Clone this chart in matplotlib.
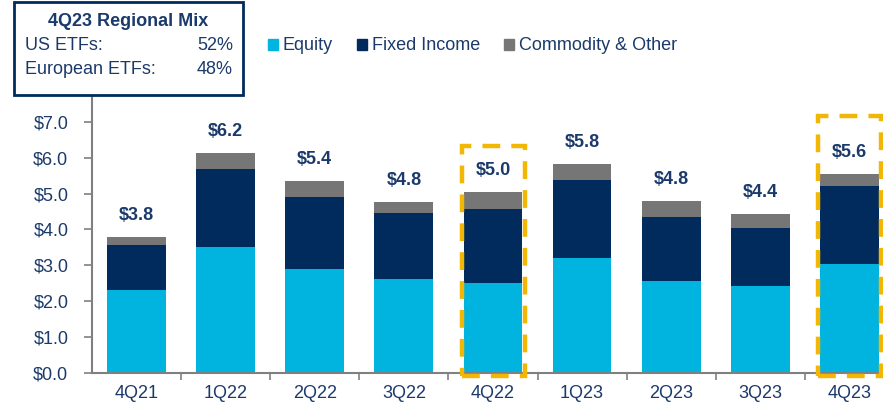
import matplotlib.pyplot as plt
from matplotlib.patches import Patch, Rectangle

plt.rcParams['font.family'] = ['Liberation Sans', 'DejaVu Sans']

quarters = ['4Q21', '1Q22', '2Q22', '3Q22', '4Q22', '1Q23', '2Q23', '3Q23', '4Q23']
equity = [2.31, 3.51, 2.90, 2.62, 2.50, 3.21, 2.57, 2.43, 3.03]
fixed_income = [1.26, 2.18, 2.01, 1.84, 2.08, 2.17, 1.78, 1.61, 2.19]
commodity = [0.21, 0.44, 0.44, 0.31, 0.45, 0.45, 0.45, 0.39, 0.33]
totals = ['$3.8', '$6.2', '$5.4', '$4.8', '$5.0', '$5.8', '$4.8', '$4.4', '$5.6']
highlight = ['4Q22', '4Q23']
yticks = [0, 1, 2, 3, 4, 5, 6, 7]

c_eq = '#00B4DF'
c_fi = '#002B5C'
c_co = '#767676'
navy = '#1B3A6B'
gold = '#F2B705'
fs = 13

fig = plt.figure(figsize=(8.83, 4.03), dpi=100)
ax = fig.add_axes([92 / 883, 30 / 403, 9 * 89.1 / 883, (373 - 93) / 403])

x = range(len(quarters))
w = 0.66
ax.bar(x, equity, w, color=c_eq, zorder=2)
ax.bar(x, fixed_income, w, bottom=equity, color=c_fi, zorder=2)
base = [e + f for e, f in zip(equity, fixed_income)]
ax.bar(x, commodity, w, bottom=base, color=c_co, zorder=2)

for i, q in enumerate(quarters):
    top = base[i] + commodity[i]
    ax.text(i, top + 0.6, totals[i], ha='center', va='center', fontsize=fs,
            fontweight='bold', color=navy)
    if q in highlight:
        top_box = top + 1.3 if q == '4Q22' else top + 1.6
        r = Rectangle((i - 0.35, -0.08), 0.71, top_box + 0.08, fill=False,
                      edgecolor=gold, lw=3.2, linestyle=(0, (4, 2.5)),
                      clip_on=False, zorder=3)
        ax.add_patch(r)

ax.set_xlim(-0.5, 8.5)
ax.set_ylim(0, 7.8)
ax.set_yticks(yticks)
ax.set_yticklabels(['${:.1f}'.format(v) for v in yticks], fontsize=fs, color=navy)
ax.set_xticks([i - 0.5 for i in range(len(quarters))][1:])
ax.set_xticklabels([])
ax.set_xticks(list(x), minor=True)
ax.set_xticklabels(quarters, minor=True, fontsize=fs, color=navy)
ax.tick_params(axis='x', which='minor', length=0, pad=9)
ax.tick_params(axis='x', which='major', length=5, color='#808080', width=1.2)
ax.tick_params(axis='y', length=6, color='#808080', width=1.2, pad=11)
for s in ['top', 'right']:
    ax.spines[s].set_visible(False)
for s in ['left', 'bottom']:
    ax.spines[s].set_color('#808080')
    ax.spines[s].set_linewidth(1.5)

handles = [Patch(color=c_eq, label='Equity'),
           Patch(color=c_fi, label='Fixed Income'),
           Patch(color=c_co, label='Commodity & Other')]
fig.legend(handles=handles, loc='center left', bbox_to_anchor=(252 / 883, 1 - 46 / 403),
           ncol=3, frameon=False, fontsize=fs, handlelength=0.55, handleheight=0.55,
           handletextpad=0.25, columnspacing=1.35, labelcolor=navy)

# info box
box = Rectangle((14 / 883, 1 - 95 / 403), 229 / 883, 93 / 403, transform=fig.transFigure,
                facecolor='white', edgecolor=c_fi, lw=2, zorder=10)
fig.add_artist(box)
fig.text(128 / 883, 1 - 21 / 403, '4Q23 Regional Mix', ha='center', va='center',
         fontsize=fs, fontweight='bold', color=navy, zorder=11)
fig.text(25 / 883, 1 - 46 / 403, 'US ETFs:', ha='left', va='center', fontsize=fs,
         color=navy, zorder=11)
fig.text(233 / 883, 1 - 46 / 403, '52%', ha='right', va='center', fontsize=fs,
         color=navy, zorder=11)
fig.text(25 / 883, 1 - 69 / 403, 'European ETFs:', ha='left', va='center', fontsize=fs,
         color=navy, zorder=11)
fig.text(233 / 883, 1 - 69 / 403, '48%', ha='right', va='center', fontsize=fs,
         color=navy, zorder=11)

fig.savefig('out.png', dpi=100)
